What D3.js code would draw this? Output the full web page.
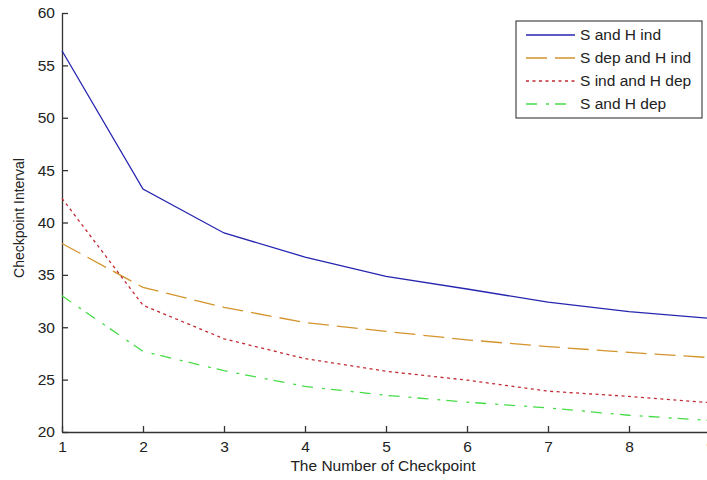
<!DOCTYPE html>
<html>
<head>
<meta charset="utf-8">
<script src="https://cdn.jsdelivr.net/npm/d3@7"></script>
<style>
  html, body { margin: 0; padding: 0; background: #fff; }
  svg { display: block; font-family: "Liberation Sans", Arial, sans-serif; }
</style>
</head>
<body>
<div id="chart"></div>
<script>
// checkpoint index on the x axis
const checkpoints = [1, 2, 3, 4, 5, 6, 7, 8, 9];

// values
const sHInd = [56.4, 43.2, 39.0, 36.7, 34.85, 33.65, 32.4, 31.5, 30.85];
const sDepHInd = [38.0, 33.8, 31.9, 30.45, 29.6, 28.8, 28.15, 27.6, 27.1];
const sIndHDep = [42.3, 32.1, 28.9, 27.0, 25.8, 24.95, 23.9, 23.4, 22.8];
const sHDep = [33.0, 27.7, 25.85, 24.35, 23.5, 22.85, 22.3, 21.6, 21.1];

const yTicks = [20, 25, 30, 35, 40, 45, 50, 55, 60];
const seriesNames = ["S and H ind", "S dep and H ind", "S ind and H dep", "S and H dep"];

const width = 707;
const height = 480;
const margin = { top: 13, right: -3, bottom: 48, left: 62 };

const series = [
  { name: seriesNames[0], values: sHInd, color: "#2626b0", dash: null },
  { name: seriesNames[1], values: sDepHInd, color: "#d4942c", dash: "21,8" },
  { name: seriesNames[2], values: sIndHDep, color: "#c22a32", dash: "3,3.5" },
  { name: seriesNames[3], values: sHDep, color: "#46dc46", dash: "11,9,3,6" },
];

const svg = d3.select("#chart")
  .append("svg")
  .attr("width", width)
  .attr("height", height)
  .attr("viewBox", [0, 0, width, height]);

const x = d3.scaleLinear()
  .domain([1, 9])
  .range([margin.left, width - margin.right]);

const y = d3.scaleLinear()
  .domain([20, 60])
  .range([height - margin.bottom, margin.top]);

const axisColor = "#333";

// x axis, ticks pointing inward
svg.append("g")
  .attr("transform", `translate(0,${height - margin.bottom})`)
  .call(d3.axisBottom(x).tickValues(checkpoints).tickSize(-6).tickPadding(9).tickSizeOuter(0))
  .call((g) => g.select(".domain").attr("stroke", axisColor).attr("stroke-width", 1.3))
  .call((g) => g.selectAll(".tick line").attr("stroke", axisColor).attr("stroke-width", 1.3))
  .call((g) => g.selectAll("text").attr("fill", "#222").style("font-size", "15.5px"));

// y axis
svg.append("g")
  .attr("transform", `translate(${margin.left},0)`)
  .call(d3.axisLeft(y).tickValues(yTicks).tickSize(-6).tickPadding(7).tickSizeOuter(0))
  .call((g) => g.select(".domain").attr("stroke", axisColor).attr("stroke-width", 1.3))
  .call((g) => g.selectAll(".tick line").attr("stroke", axisColor).attr("stroke-width", 1.3))
  .call((g) => g.selectAll("text").attr("fill", "#222").style("font-size", "15.5px"));

svg.append("text")
  .attr("x", 383)
  .attr("y", 471)
  .attr("text-anchor", "middle")
  .attr("fill", "#222")
  .style("font-size", "15.5px")
  .text("The Number of Checkpoint");

svg.append("text")
  .attr("transform", `translate(24,${218}) rotate(-90)`)
  .attr("text-anchor", "middle")
  .attr("fill", "#222")
  .style("font-size", "14px")
  .text("Checkpoint Interval");

const line = d3.line()
  .x((d, i) => x(checkpoints[i]))
  .y((d) => y(d));

svg.append("g")
  .selectAll("path")
  .data(series)
  .join("path")
  .attr("d", (d) => line(d.values))
  .attr("fill", "none")
  .attr("stroke", (d) => d.color)
  .attr("stroke-width", 1.3)
  .attr("stroke-dasharray", (d) => d.dash);

// legend
const legend = svg.append("g").attr("transform", "translate(516,21)");

legend.append("rect")
  .attr("width", 186)
  .attr("height", 97)
  .attr("fill", "#fff")
  .attr("stroke", "#222")
  .attr("stroke-width", 1);

const rows = legend.selectAll("g.row")
  .data(series)
  .join("g")
  .attr("class", "row")
  .attr("transform", (d, i) => `translate(0,${14 + i * 23})`);

rows.append("line")
  .attr("x1", 10)
  .attr("x2", 59)
  .attr("stroke", (d) => d.color)
  .attr("stroke-width", 1.3)
  .attr("stroke-dasharray", (d) => d.dash);

rows.append("text")
  .attr("x", 64)
  .attr("dy", "0.35em")
  .attr("fill", "#222")
  .style("font-size", "15.5px")
  .text((d) => d.name);
</script>
</body>
</html>
